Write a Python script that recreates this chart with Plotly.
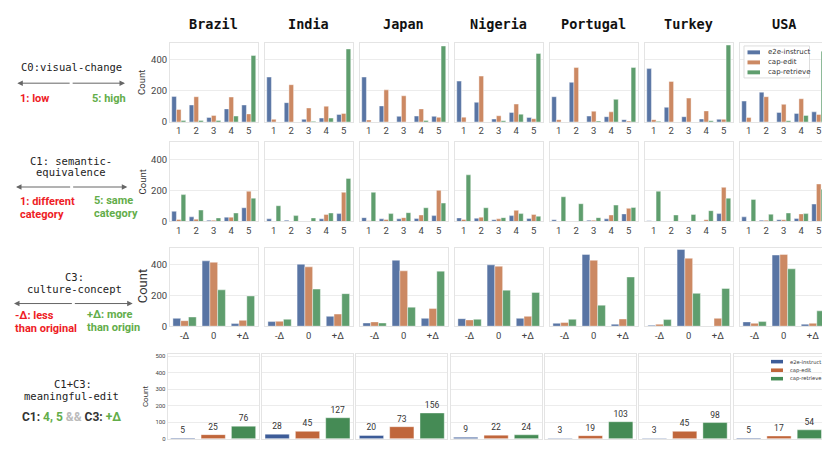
import plotly.graph_objects as go

# ---------------- data ----------------
countries = ["Brazil", "India", "Japan", "Nigeria", "Portugal", "Turkey", "USA"]
methods = ["e2e-instruct", "cap-edit", "cap-retrieve"]
c0_labels = ["1", "2", "3", "4", "5"]
c1_labels = ["1", "2", "3", "4", "5"]
c3_labels = ["-Δ", "0", "+Δ"]

# C0: visual-change (per country, scores 1..5)
c0_e2e_instruct = [[164, 109, 29, 84, 109], [288, 124, 17, 25, 48], [288, 103, 36, 38, 36],
                   [262, 126, 19, 61, 29], [162, 254, 38, 34, 15], [342, 94, 34, 19, 17],
                   [134, 191, 61, 55, 65]]
c0_cap_edit = [[80, 162, 42, 160, 52], [17, 239, 90, 101, 55], [13, 206, 168, 84, 30],
               [31, 294, 40, 115, 21], [15, 349, 69, 65, 6], [15, 260, 153, 71, 17],
               [29, 162, 113, 149, 48]]
c0_cap_retrieve = [[10, 10, 10, 38, 426], [0, 0, 4, 25, 468], [0, 0, 0, 10, 487],
                   [0, 0, 8, 50, 439], [0, 0, 6, 145, 349], [4, 0, 0, 8, 493],
                   [0, 0, 8, 42, 454]]

# C1: semantic-equivalence
c1_e2e_instruct = [[66, 30, 8, 28, 89], [17, 8, 2, 17, 51], [25, 17, 17, 19, 38],
                   [23, 21, 11, 38, 19], [11, 2, 8, 17, 49], [4, 2, 2, 2, 51],
                   [30, 8, 11, 19, 113]]
c1_cap_edit = [[13, 15, 8, 28, 196], [2, 2, 2, 45, 189], [4, 13, 25, 42, 202],
               [13, 28, 17, 72, 45], [0, 0, 8, 42, 85], [2, 0, 0, 11, 221],
               [2, 8, 11, 49, 243]]
c1_cap_retrieve = [[174, 74, 23, 55, 151], [102, 38, 23, 55, 279], [189, 51, 57, 89, 119],
                   [302, 89, 25, 51, 34], [160, 115, 25, 106, 91], [196, 42, 45, 70, 151],
                   [143, 47, 55, 51, 209]]

# C3: culture-concept (-Δ, 0, +Δ)
c3_e2e_instruct = [[51, 426, 17], [30, 404, 64], [21, 430, 51], [49, 400, 51],
                   [19, 468, 13], [6, 500, 2], [28, 464, 13]]
c3_cap_edit = [[36, 417, 38], [32, 387, 79], [28, 361, 115], [41, 391, 64],
               [24, 430, 47], [13, 443, 51], [19, 468, 19]]
c3_cap_retrieve = [[60, 237, 197], [45, 242, 212], [21, 124, 359], [45, 235, 220],
                   [45, 137, 321], [43, 214, 246], [30, 374, 100]]

# C1+C3: meaningful-edit
c13_e2e_instruct = [5, 28, 20, 9, 3, 3, 5]
c13_cap_edit = [25, 45, 73, 22, 19, 45, 17]
c13_cap_retrieve = [76, 127, 156, 24, 103, 98, 54]

# ---------------- style ----------------
W, H = 830, 467
OFF_X, OFF_Y = 8, 8   # page body margin compensation
soft_colors = ["#5975a4", "#cc8963", "#5f9e6e"]
deep_colors = ["#3d5c98", "#c0663b", "#458b55"]
RED = "#ee1c25"
GREEN = "#63ad4a"
MONO = "DejaVu Sans Mono"
SANS = "Roboto"

rows_y = [(41.7, 121.7), (142.3, 222.7), (249.3, 329.0), (357.3, 443.3)]
yranges = [[0, 505], [0, 513], [0, 512], [0, 512]]

fig = go.Figure()
layout = {}


def px_x(v):
    return (v - OFF_X) / W


def px_y(v):
    return 1 - (v - OFF_Y) / H


row_data = [
    (c0_labels, [c0_e2e_instruct, c0_cap_edit, c0_cap_retrieve]),
    (c1_labels, [c1_e2e_instruct, c1_cap_edit, c1_cap_retrieve]),
    (c3_labels, [c3_e2e_instruct, c3_cap_edit, c3_cap_retrieve]),
]

for r in range(4):
    for c in range(7):
        idx = r * 7 + c + 1
        xname = "x" if idx == 1 else f"x{idx}"
        yname = "y" if idx == 1 else f"y{idx}"
        if r < 3:
            left = 170 + 95.0 * c
            right = left + 87.5
        else:
            left = 167.7 + 94.3 * c
            right = left + 91.0
        top, bot = rows_y[r]
        xa = dict(domain=[px_x(left), px_x(right)], anchor=yname, type="category",
                  showgrid=False, showline=True, linecolor="#e4e4e4", linewidth=1,
                  mirror=True, ticks="", zeroline=False,
                  tickfont=dict(family=SANS, size=9.5, color="#444"), fixedrange=True)
        ya = dict(domain=[px_y(bot), px_y(top)], anchor=xname, range=yranges[r],
                  showgrid=True, gridcolor="#ececec", gridwidth=1, showline=True,
                  linecolor="#e4e4e4", linewidth=1, mirror=True, ticks="",
                  zeroline=False, fixedrange=True,
                  tickfont=dict(family=SANS, size=9.5 if r < 3 else 6, color="#444"),
                  showticklabels=(c == 0))
        if r < 3:
            ya["tickvals"] = [0, 200, 400]
        else:
            ya["tickvals"] = [0, 100, 200, 300, 400, 500]
            xa["showticklabels"] = False
        layout["xaxis" if idx == 1 else f"xaxis{idx}"] = xa
        layout["yaxis" if idx == 1 else f"yaxis{idx}"] = ya

        if r < 3:
            cats, series = row_data[r]
            for m in range(3):
                fig.add_trace(go.Bar(
                    x=cats, y=series[m][c], name=methods[m], xaxis=xname, yaxis=yname,
                    marker=dict(color=soft_colors[m], line=dict(color="rgba(255,255,255,0.7)", width=0.6)),
                    showlegend=False, hoverinfo="skip"))
        else:
            vals = [c13_e2e_instruct[c], c13_cap_edit[c], c13_cap_retrieve[c]]
            for m in range(3):
                fig.add_trace(go.Bar(
                    x=[methods[m]], y=[vals[m]], name=methods[m], xaxis=xname, yaxis=yname,
                    offsetgroup="one", width=0.8,
                    marker=dict(color=deep_colors[m], line=dict(color="rgba(255,255,255,0.7)", width=0.6)),
                    text=[str(vals[m])], textposition="outside", cliponaxis=False,
                    textfont=dict(family=SANS, size=8.5, color="#333"),
                    showlegend=False, hoverinfo="skip"))

annotations = []
shapes = []
# country titles
for c, name in enumerate(countries):
    cx = 170 + 95.0 * c + 87.5 / 2
    annotations.append(dict(x=px_x(cx), y=px_y(22), xref="paper", yref="paper",
                            text=f"<b>{name}</b>", showarrow=False,
                            font=dict(family=MONO, size=13.5, color="#111"),
                            xanchor="center", yanchor="middle"))

# Count titles
for (xp, yp, fs) in [(142, 82, 9.5), (142, 183, 9.5), (142.5, 289, 13), (145, 400, 8)]:
    annotations.append(dict(x=px_x(xp), y=px_y(yp), xref="paper", yref="paper",
                            text="Count", textangle=-90, showarrow=False,
                            font=dict(family=SANS, size=fs, color="#333"),
                            xanchor="center", yanchor="middle"))


def txt(x, y, s, color="#222", size=10.5, family=MONO, anchor="center"):
    annotations.append(dict(x=px_x(x), y=px_y(y), xref="paper", yref="paper", text=s,
                            showarrow=False, font=dict(family=family, size=size, color=color),
                            xanchor=anchor, yanchor="middle"))


def darrow(x0, x1, y):
    mid = (x0 + x1) / 2
    for end in (x0, x1):
        annotations.append(dict(x=px_x(end), y=px_y(y), ax=mid - end, ay=0,
                                xref="paper", yref="paper", axref="pixel", ayref="pixel",
                                text="", showarrow=True, arrowhead=2, arrowsize=1.1,
                                arrowwidth=1, arrowcolor="#666"))


def rect(x0, x1, y0, y1, fill, line=None):
    shapes.append(dict(type="rect", xref="paper", yref="paper", layer="above",
                       x0=px_x(x0), x1=px_x(x1), y0=px_y(y1), y1=px_y(y0),
                       fillcolor=fill,
                       line=dict(width=1 if line else 0, color=line or fill)))


# legends (drawn as keys, matching seaborn's compact legends)
rect(744, 809.5, 44.5, 77, "rgba(255,255,255,0.9)", "#dddddd")
for m, yy in enumerate([51, 61.2, 71.3]):
    rect(747.5, 760, yy - 2, yy + 2, soft_colors[m])
    txt(765.5, yy, methods[m], "#333", 7, "DejaVu Sans", "left")
for m, yy in enumerate([365, 373.7, 382.3]):
    rect(771, 783, yy - 1.8, yy + 1.8, deep_colors[m])
    txt(787.5, yy, methods[m], "#333", 5.2, "DejaVu Sans", "left")

# C0 block
txt(71.2, 66, "C0:visual-change")
darrow(17.3, 125, 82.3)
txt(18.3, 97.7, "<b>1: low</b>", RED, 11, SANS, "left")
txt(128.3, 97.7, "<b>5: high</b>", GREEN, 11, SANS, "right")

# C1 block
txt(71, 161, "C1: semantic-")
txt(71, 172.7, "equivalence")
darrow(16, 127.3, 187.7)
txt(18.3, 202.7, "<b>1: different</b>", RED, 11, SANS, "left")
txt(18.3, 215.3, "<b>category</b>", RED, 11, SANS, "left")
txt(91.7, 201.7, "<b>5: same</b>", GREEN, 11, SANS, "left")
txt(91.7, 214.3, "<b>category</b>", GREEN, 11, SANS, "left")

# C3 block
txt(74.5, 279, "C3:")
txt(74.2, 291, "culture-concept")
darrow(14, 132.7, 306)
txt(13.3, 318.3, "<b>-Δ: less</b>", RED, 11, SANS, "left")
txt(13.3, 331, "<b>than original</b>", RED, 11, SANS, "left")
txt(85, 317.3, "<b>+Δ: more</b>", GREEN, 11, SANS, "left")
txt(85, 330, "<b>than origin</b>", GREEN, 11, SANS, "left")

# C1+C3 block
txt(72.5, 387.3, "C1+C3:")
txt(71.7, 400, "meaningful-edit")
txt(71, 420.7,
    "<b>C1: <span style='color:%s'>4, 5</span> <span style='color:#bbbbbb'>&&</span> "
    "C3: <span style='color:%s'>+Δ</span></b>" % (GREEN, GREEN),
    "#333", 12, SANS, "center")

layout.update(dict(
    width=W, height=H, margin=dict(l=0, r=0, t=0, b=0),
    paper_bgcolor="white", plot_bgcolor="white",
    barmode="group", bargap=0.2, bargroupgap=0,
    annotations=annotations, shapes=shapes, showlegend=False,
    font=dict(family=SANS),
))
fig.update_layout(**layout)
fig.write_html("out.html")
